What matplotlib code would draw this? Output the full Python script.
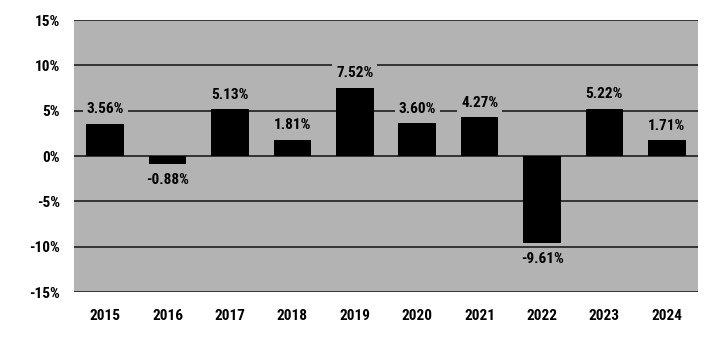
import numpy as np
import matplotlib
matplotlib.use('Agg')
from matplotlib import pyplot as plt
from matplotlib import font_manager

# yearly returns, in percent
years = ['2015', '2016', '2017', '2018', '2019', '2020', '2021', '2022', '2023', '2024']
returns = [3.56, -0.88, 5.13, 1.81, 7.52, 3.60, 4.27, -9.61, 5.22, 1.71]
yticks = [-15, -10, -5, 0, 5, 10, 15]

# narrow bold font, take the first one that really has a bold face
bold = set(f.name for f in font_manager.fontManager.ttflist
           if isinstance(f.weight, int) and f.weight >= 700 or f.weight == 'bold')
fam = ['Liberation Sans Narrow', 'Roboto Condensed', 'PT Sans Narrow', 'Archivo Narrow',
       'Open Sans Condensed', 'Liberation Sans']
plt.rcParams['font.family'] = [f for f in fam if f in bold][:1] + ['DejaVu Sans']

bg = '#b3b3b3'
fig = plt.figure(figsize=(7.21, 3.38), dpi=100)
ax = fig.add_axes([74 / 721, 1 - 292 / 338, 624 / 721, 272 / 338])
ax.set_facecolor(bg)

x = np.arange(len(years))
ax.bar(x, returns, width=0.6, color='black', zorder=3)

box = dict(boxstyle='square,pad=0.25', fc=bg, ec='none')
for xi, v in zip(x, returns):
    if v >= 0:
        ax.annotate('%.2f%%' % v, (xi, v), xytext=(0, 7.5), textcoords='offset points',
                    ha='center', va='baseline', fontsize=11, fontweight='bold',
                    bbox=box, zorder=4)
    else:
        ax.annotate('%.2f%%' % v, (xi, v), xytext=(0, -6.5), textcoords='offset points',
                    ha='center', va='top', fontsize=11, fontweight='bold',
                    bbox=box, zorder=4)

ax.set_xlim(-0.5, len(years) - 0.5)
ax.set_ylim(-15, 15)
ax.set_yticks(yticks)
ax.set_yticklabels(['%d%%' % t for t in yticks])
ax.set_xticks(x)
ax.set_xticklabels(years)
for lab in ax.get_xticklabels() + ax.get_yticklabels():
    lab.set_fontweight('bold')
    lab.set_fontsize(11)

ax.yaxis.grid(True, color='#1e1e1e', linewidth=1.2, zorder=1)
ax.tick_params(length=0, pad=10)
ax.tick_params(axis='x', pad=12)
for s in ax.spines.values():
    s.set_visible(False)

fig.savefig('out.png', dpi=100)
